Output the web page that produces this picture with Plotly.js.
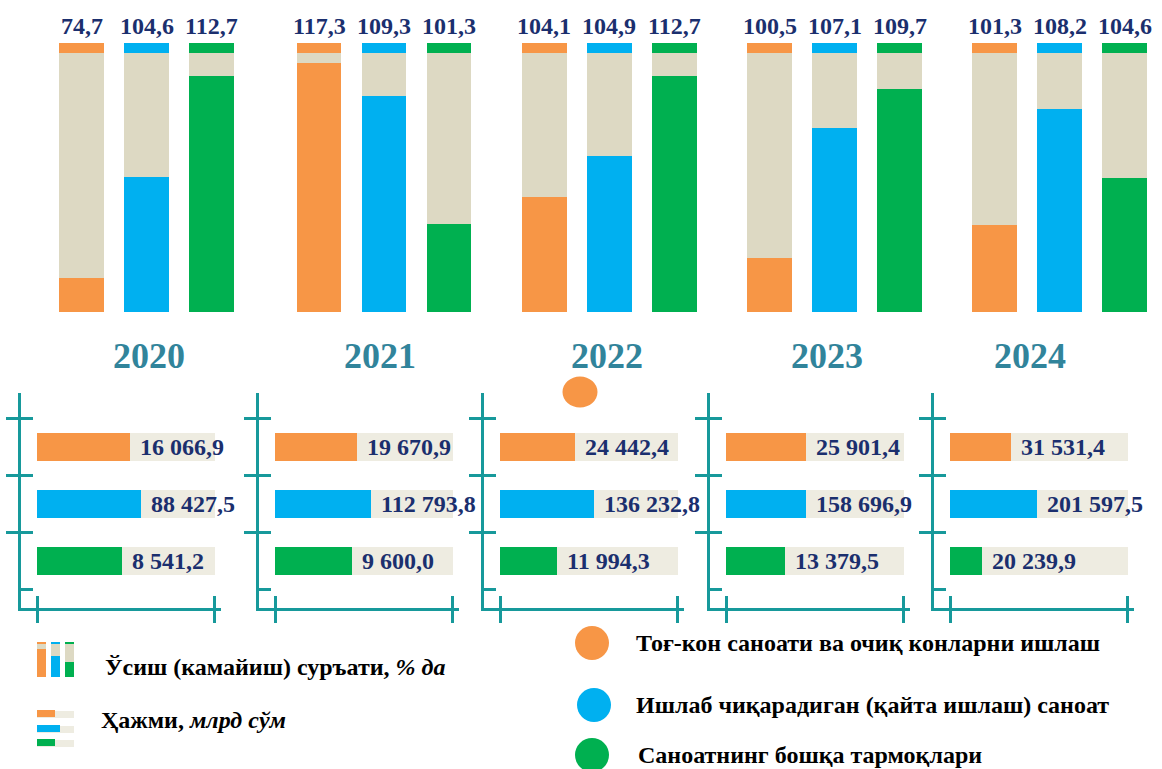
<!DOCTYPE html>
<html>
<head>
<meta charset="utf-8">
<script src="https://cdn.plot.ly/plotly-3.0.1.min.js"></script>
<style>
  html, body { margin: 0; padding: 0; background: #fff; }
  #chart { width: 1162px; height: 769px; }
</style>
</head>
<body>
<div id="chart"></div>
<script>
// --- data ---
const years = ['2020', '2021', '2022', '2023', '2024'];
const sectors = [
    'Тоғ-кон саноати ва очиқ конларни ишлаш',
    'Ишлаб чиқарадиган (қайта ишлаш) саноат',
    'Саноатнинг бошқа тармоқлари'
];

// growth rate, % (labels over the columns)
const growMining = [74.7, 117.3, 104.1, 100.5, 101.3];
const growManuf  = [104.6, 109.3, 104.9, 107.1, 108.2];
const growOther  = [112.7, 101.3, 112.7, 109.7, 104.6];

// coloured part of each column, % of column height
const colMining = [12.6, 92.6, 42.8, 20.1, 32.3];
const colManuf  = [50.2, 80.3, 58.0, 68.4, 75.5];
const colOther  = [87.7, 32.7, 87.7, 82.9, 49.8];
const capShare = 3.7; // coloured cap on top of every column

// volume, bln sum (labels beside the small bars)
const volMining = [16066.9, 19670.9, 24442.4, 25901.4, 31531.4];
const volManuf  = [88427.5, 112793.8, 136232.8, 158696.9, 201597.5];
const volOther  = [8541.2, 9600.0, 11994.3, 13379.5, 20239.9];

// coloured part of each small bar, % of bar length
const barMining = [52, 46, 42, 45, 34];
const barManuf  = [58.6, 54, 53, 45, 49];
const barOther  = [48, 43, 32, 33, 18];

// --- styling ---
const W = 1162, H = 769;
const ORANGE = '#F79646', BLUE = '#00B0F0', GREEN = '#00B050';
const BEIGE = '#DDD9C3', BEIGE_LIGHT = '#EEECE1';
const TEAL = '#17999B', YEAR_TEAL = '#31849B', NAVY = '#1B2F6E';
const SERIF = '"Liberation Serif", "Times New Roman", serif';
const sectorColors = [ORANGE, BLUE, GREEN];

const px = x => x / W;
const py = y => 1 - y / H;

const topDomains = [[48.9, 244.6], [286.5, 481.5], [511.5, 707], [737, 932], [962, 1157]];
const yearShift = [2, -4, -2, -8, -30]; // year captions are not quite centred in the original
const bottomLeft = [21, 259, 484, 710, 934];

function fmt(v) {
    const parts = v.toFixed(1).split('.');
    return parts[0].replace(/\B(?=(\d{3})+(?!\d))/g, ' ') + ',' + parts[1];
}

const traces = [];
const layout = {
    width: W, height: H,
    margin: { l: 0, r: 0, t: 0, b: 0 },
    barmode: 'stack',
    showlegend: false,
    paper_bgcolor: '#fff',
    plot_bgcolor: 'rgba(0,0,0,0)',
    font: { family: SERIF },
    shapes: [],
    annotations: []
};

years.forEach((year, i) => {
    // 1. upper column charts
    const n = i + 1;
    const xa = 'x' + n, ya = 'y' + n;
    const fills = [colMining[i], colManuf[i], colOther[i]];
    const grows = [growMining[i], growManuf[i], growOther[i]];

    traces.push({
        type: 'bar', x: sectors, y: fills, width: 0.69,
        marker: { color: sectorColors, line: { width: 0 } },
        xaxis: xa, yaxis: ya, hoverinfo: 'skip'
    });
    traces.push({
        type: 'bar', x: sectors, y: fills.map(f => 100 - capShare - f), width: 0.69,
        marker: { color: BEIGE, line: { width: 0 } },
        xaxis: xa, yaxis: ya, hoverinfo: 'skip'
    });
    traces.push({
        type: 'bar', x: sectors, y: sectors.map(() => capShare), width: 0.69,
        marker: { color: sectorColors, line: { width: 0 } },
        xaxis: xa, yaxis: ya, hoverinfo: 'skip'
    });

    layout['xaxis' + n] = {
        domain: [px(topDomains[i][0]), px(topDomains[i][1])],
        anchor: ya, type: 'category', visible: false, fixedrange: true
    };
    layout['yaxis' + n] = {
        domain: [py(312), py(43)], anchor: xa,
        range: [0, 100], visible: false, fixedrange: true
    };

    sectors.forEach((s, j) => {
        layout.annotations.push({
            xref: xa, yref: ya, x: s, y: 100,
            yanchor: 'bottom', yshift: 2, showarrow: false,
            text: '<b>' + grows[j].toFixed(1).replace('.', ',') + '</b>',
            font: { family: SERIF, size: 24, color: NAVY }
        });
    });

    layout.annotations.push({
        xref: xa + ' domain', yref: 'paper', x: 0.5, y: py(356), xshift: yearShift[i],
        yanchor: 'middle', showarrow: false,
        text: '<b>' + year + '</b>',
        font: { family: SERIF, size: 36, color: YEAR_TEAL }
    });

    // 2. lower small bar charts
    const m = i + 6, o = i + 11;
    const bx = 'x' + m, by = 'y' + m;
    const bars = [barMining[i], barManuf[i], barOther[i]];
    const vols = [volMining[i], volManuf[i], volOther[i]];

    traces.push({
        type: 'bar', orientation: 'h', y: sectors, x: bars, width: 0.49,
        marker: { color: sectorColors, line: { width: 0 } },
        xaxis: bx, yaxis: by, hoverinfo: 'skip'
    });
    traces.push({
        type: 'bar', orientation: 'h', y: sectors, x: bars.map(b => 100 - b), width: 0.49,
        marker: { color: BEIGE_LIGHT, line: { width: 0 } },
        xaxis: bx, yaxis: by, hoverinfo: 'skip'
    });
    // empty trace so the overlay axes (second half of the cross ticks) get drawn
    traces.push({
        type: 'scatter', mode: 'markers', x: [], y: [],
        xaxis: 'x' + o, yaxis: 'y' + o, hoverinfo: 'skip'
    });

    const L = bottomLeft[i];
    const tickStyle = { ticklen: 12, tickwidth: 3, tickcolor: TEAL, showticklabels: false,
                        showgrid: false, zeroline: false, fixedrange: true };
    layout['xaxis' + m] = Object.assign({
        domain: [px(L), px(L + 200)], anchor: by, range: [-9, 103.4],
        showline: true, linecolor: TEAL, linewidth: 3,
        ticks: 'outside', tickmode: 'array', tickvals: [0, 100]
    }, tickStyle);
    layout['yaxis' + m] = Object.assign({
        domain: [py(608), py(393)], anchor: bx, type: 'category', range: [2.82, -0.95],
        showline: true, linecolor: TEAL, linewidth: 3,
        ticks: 'outside', tickson: 'boundaries'
    }, tickStyle);
    layout['xaxis' + o] = Object.assign({
        overlaying: bx, anchor: by, range: [-9, 103.4],
        ticks: 'inside', tickmode: 'array', tickvals: [0, 100], showline: false
    }, tickStyle);
    layout['yaxis' + o] = Object.assign({
        overlaying: by, anchor: bx, type: 'linear', range: [2.82, -0.95],
        ticks: 'inside', tickmode: 'array', tickvals: [-0.5, 0.5, 1.5, 2.5], showline: false
    }, tickStyle);

    sectors.forEach((s, j) => {
        layout.annotations.push({
            xref: bx, yref: by, x: bars[j], y: s,
            xanchor: 'left', xshift: 8, showarrow: false,
            text: '<b>' + fmt(vols[j]) + '</b>',
            font: { family: SERIF, size: 24, color: NAVY }
        });
    });
});

// 3. legend (drawn by hand, like the original infographic)
const rect = (x0, y0, x1, y1, color) => ({
    type: 'rect', xref: 'paper', yref: 'paper', layer: 'above',
    x0: px(x0), x1: px(x1), y0: py(y1), y1: py(y0),
    fillcolor: color, line: { width: 0 }
});
const circle = (cx, cy, rx, ry, color) => ({
    type: 'circle', xref: 'paper', yref: 'paper',
    x0: px(cx - rx), x1: px(cx + rx), y0: py(cy + ry), y1: py(cy - ry),
    fillcolor: color, line: { width: 0 }
});

// mini column icon
[[37, 649], [51, 656], [65, 662]].forEach(([x, top], j) => {
    layout.shapes.push(rect(x, 642, x + 9, 677, BEIGE));
    layout.shapes.push(rect(x, 642, x + 9, 644, sectorColors[j]));
    layout.shapes.push(rect(x, top, x + 9, 677, sectorColors[j]));
});
// mini bar icon
[[710, 55], [725, 60], [739, 55]].forEach(([y, end], j) => {
    layout.shapes.push(rect(37, y + 1, 74, y + 8, BEIGE_LIGHT));
    layout.shapes.push(rect(37, y, end, y + 7, sectorColors[j]));
});

layout.annotations.push({
    xref: 'paper', yref: 'paper', x: px(103), y: py(667), xanchor: 'left', yanchor: 'middle',
    showarrow: false, text: '<b>Ўсиш (камайиш) суръати, <i>% да</i></b>',
    font: { family: SERIF, size: 24, color: '#000' }
});
layout.annotations.push({
    xref: 'paper', yref: 'paper', x: px(99), y: py(720), xanchor: 'left', yanchor: 'middle',
    showarrow: false, text: '<b>Ҳажми, <i>млрд сўм</i></b>',
    font: { family: SERIF, size: 24, color: '#000' }
});

const legendRows = [[592, 643, 634], [594, 705, 634], [592, 755, 636]];
legendRows.forEach(([cx, cy, tx], j) => {
    layout.shapes.push(circle(cx, cy, 17, 17, sectorColors[j]));
    layout.annotations.push({
        xref: 'paper', yref: 'paper', x: px(tx), y: py(cy), xanchor: 'left', yanchor: 'middle',
        showarrow: false, text: '<b>' + sectors[j] + '</b>',
        font: { family: SERIF, size: 24, color: '#000' }
    });
});

// stray marker left in the original picture
layout.shapes.push(circle(580, 392, 17.5, 15.5, ORANGE));

Plotly.newPlot('chart', traces, layout, { displayModeBar: false, staticPlot: true });
</script>
</body>
</html>
